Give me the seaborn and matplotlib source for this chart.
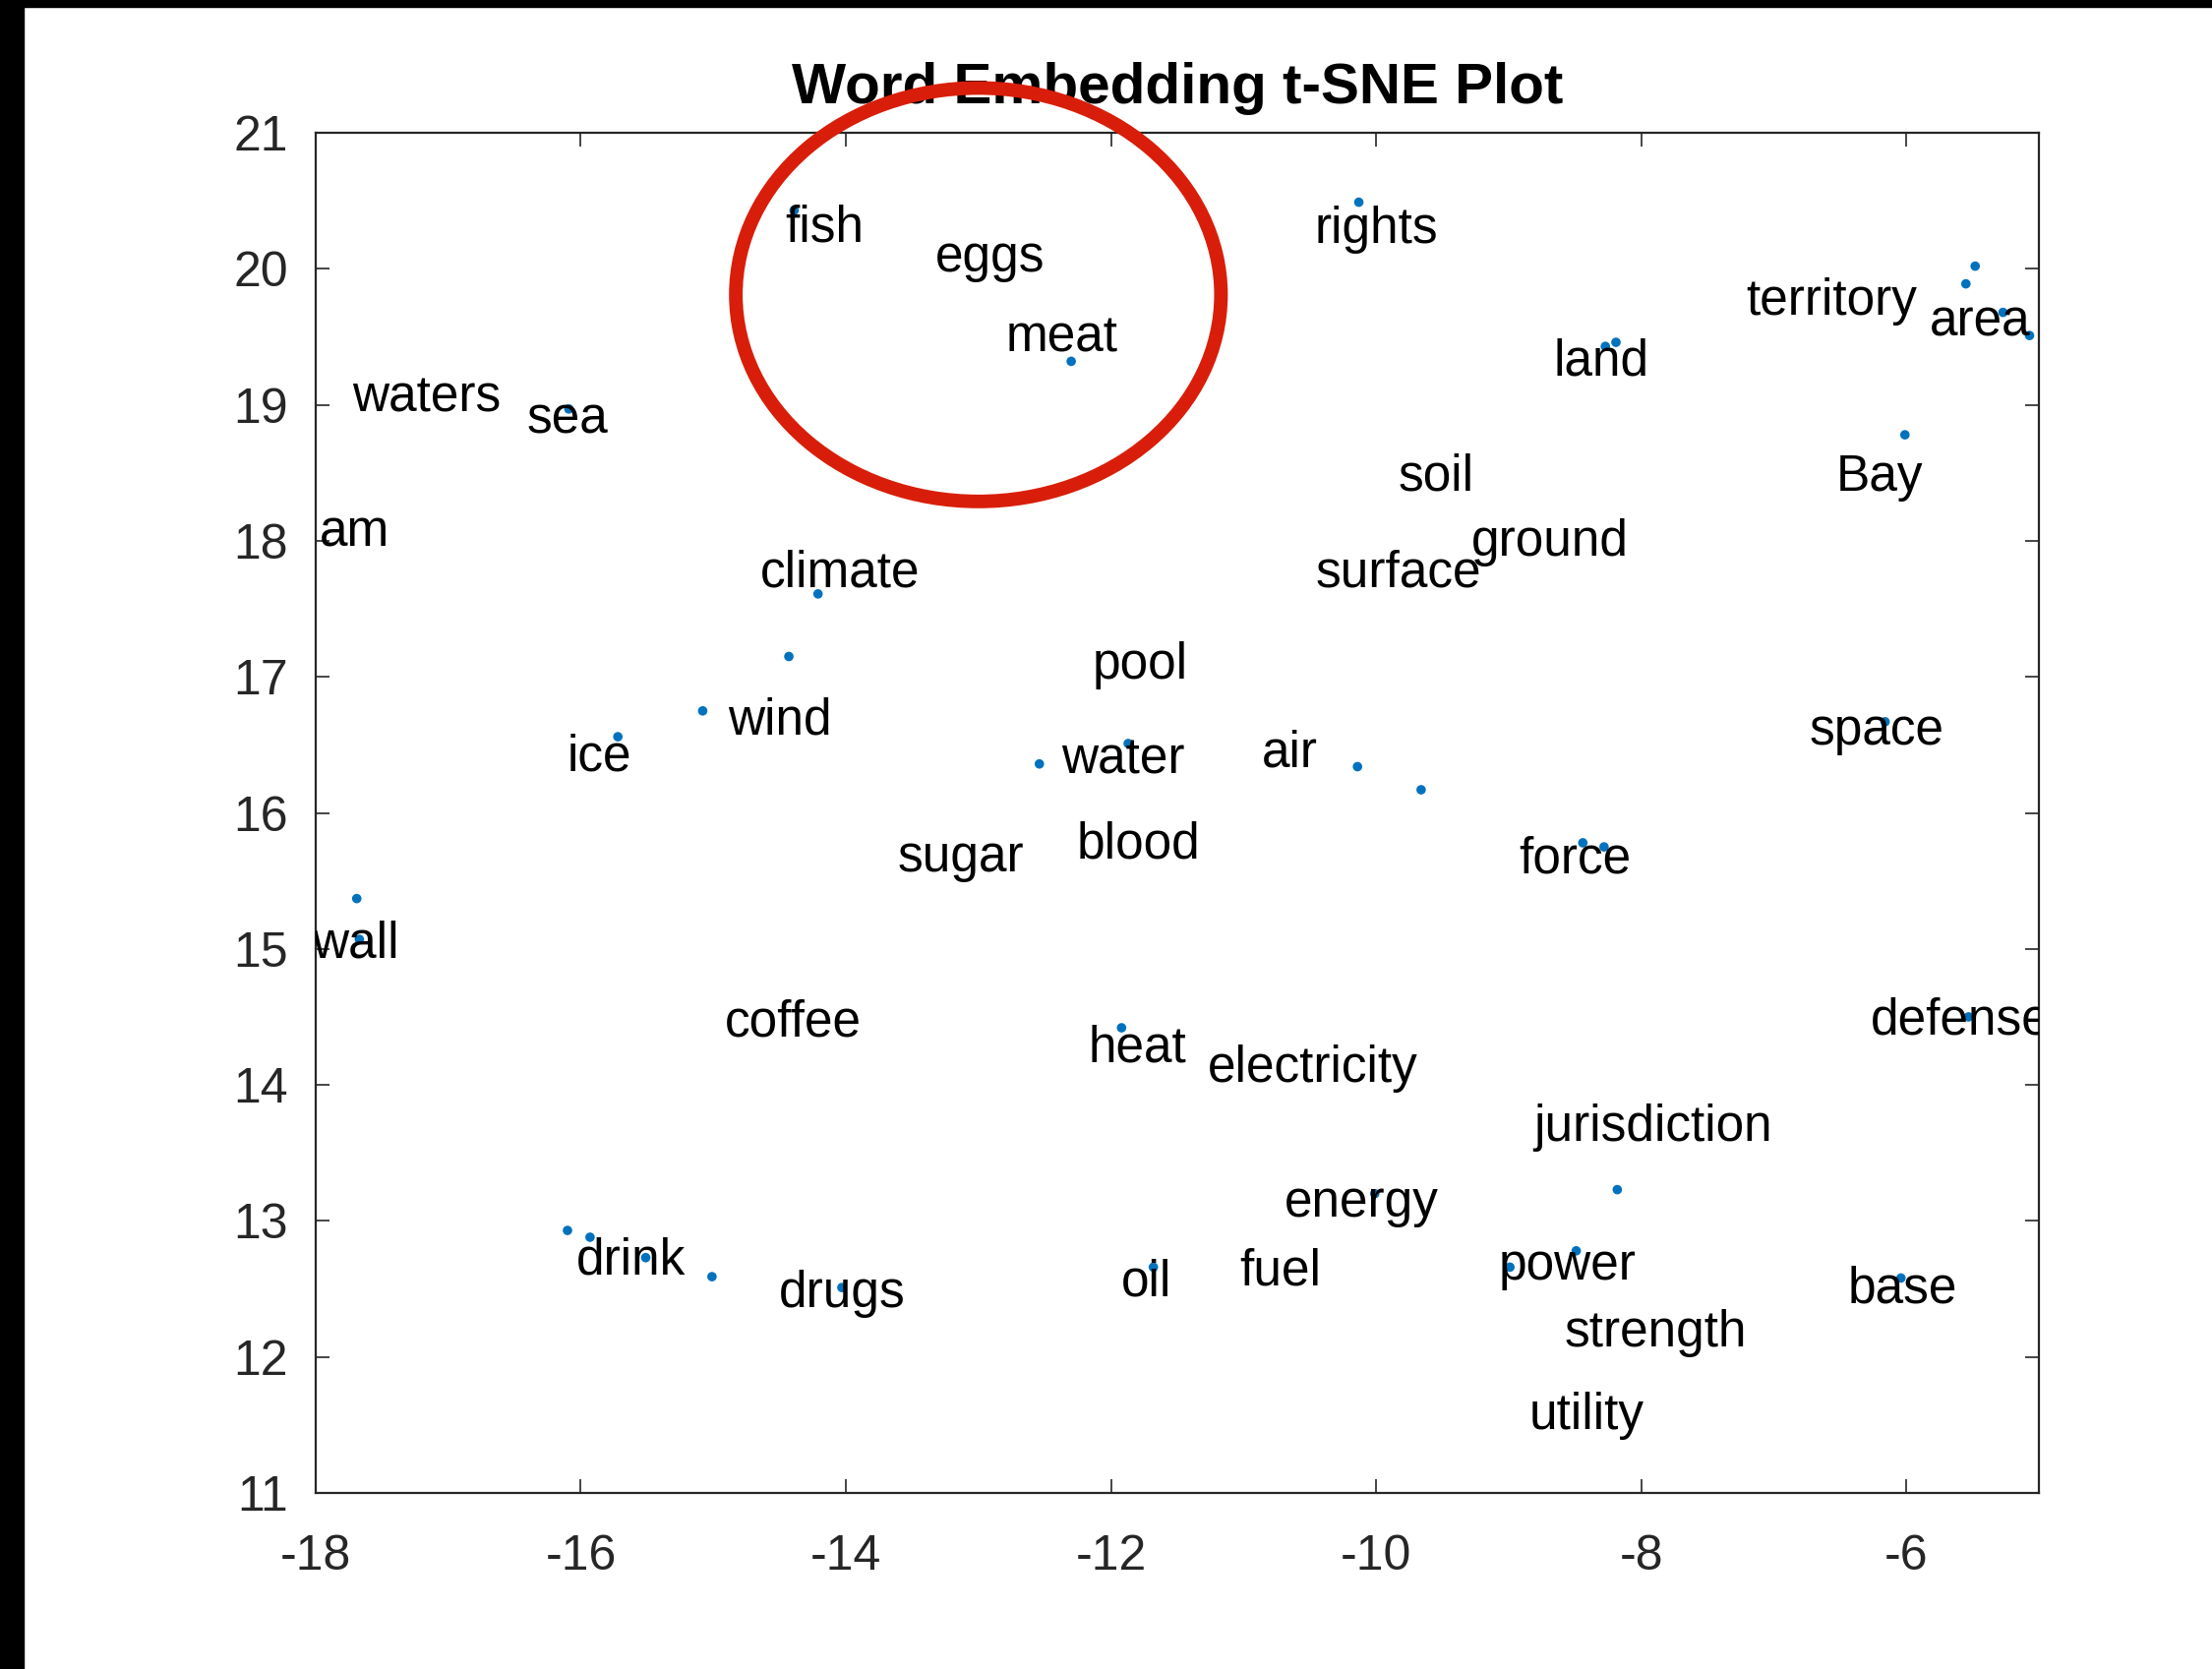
import matplotlib
matplotlib.use("Agg")
import matplotlib.pyplot as plt
from matplotlib.patches import Ellipse, Rectangle
import pandas as pd
import seaborn as sns

# %% words shown as text (x, y of label baseline centre)
words = ["fish", "eggs", "meat", "rights", "territory", "area", "land",
         "waters", "sea", "soil", "Bay", "am", "ground", "climate", "surface",
         "pool", "wind", "space", "ice", "water", "air", "blood", "sugar",
         "force", "wall", "coffee", "defense", "heat", "electricity",
         "jurisdiction", "energy", "drink", "fuel", "power", "oil", "drugs",
         "base", "strength", "utility"]
word_x = [-14.16, -12.91, -12.37, -10.00, -6.56, -5.44, -8.30,
          -17.16, -16.10, -9.55, -6.20, -17.71, -8.69, -14.04, -9.83,
          -11.78, -14.50, -6.22, -15.86, -11.91, -10.65, -11.79, -13.13,
          -8.50, -17.70, -14.40, -5.59, -11.80, -10.48,
          -7.91, -10.11, -15.62, -10.72, -8.56, -11.73, -14.03,
          -6.03, -7.89, -8.41]
word_y = [20.20, 19.98, 19.39, 20.19, 19.66, 19.51, 19.22,
          18.95, 18.79, 18.37, 18.37, 17.96, 17.89, 17.66, 17.66,
          16.99, 16.58, 16.50, 16.31, 16.29, 16.34, 15.67, 15.57,
          15.56, 14.94, 14.36, 14.37, 14.17, 14.02,
          13.59, 13.03, 12.61, 12.53, 12.57, 12.45, 12.37,
          12.40, 12.08, 11.47]

# %% points whose labels are hidden
dot_x = [-14.39, -12.30, -10.13, -5.48, -5.55, -5.27, -5.07, -8.27, -8.19,
         -16.09, -6.01, -14.21, -14.43, -15.08, -15.72, -12.54, -11.87,
         -10.14, -9.66, -6.16, -8.44, -8.28, -17.69, -17.67, -11.92, -5.53,
         -10.01, -8.18, -8.49, -8.99, -16.10, -15.93, -15.51, -15.01,
         -14.03, -11.68, -6.04]
dot_y = [20.43, 19.32, 20.49, 20.02, 19.89, 19.68, 19.51, 19.43, 19.46,
         18.97, 18.78, 17.61, 17.15, 16.75, 16.56, 16.36, 16.51,
         16.34, 16.17, 16.67, 15.78, 15.75, 15.37, 15.07, 14.42, 14.50,
         13.20, 13.23, 12.78, 12.66, 12.93, 12.88, 12.73, 12.59,
         12.51, 12.66, 12.58]

x_ticks = [-18, -16, -14, -12, -10, -8, -6]
y_ticks = [11, 12, 13, 14, 15, 16, 17, 18, 19, 20, 21]

# %% style
sns.set_style("white")
plt.rcParams["font.family"] = ["Liberation Sans", "DejaVu Sans"]
plt.rcParams["axes.unicode_minus"] = False

axis_col = "#262626"
fig = plt.figure(figsize=(22.49, 16.97), dpi=100)
ax = fig.add_axes([0.1427, 0.1055, 0.9217 - 0.1427, 0.9204 - 0.1055])

dots = pd.DataFrame({"x": dot_x, "y": dot_y})
sns.scatterplot(data=dots, x="x", y="y", ax=ax, color="#0072BD", s=48,
                edgecolor="none", clip_on=True)

for w, x, y in zip(words, word_x, word_y):
    ax.text(x, y, w, ha="center", va="baseline", fontsize=37,
            color="black", clip_on=True)

ax.set_xlim(-18, -5)
ax.set_ylim(11, 21)
ax.set_xticks(x_ticks)
ax.set_yticks(y_ticks)
ax.set_xlabel("")
ax.set_ylabel("")
ax.tick_params(direction="in", length=10, width=1.2, colors=axis_col,
               labelsize=36, top=True, right=True, bottom=True, left=True)
ax.tick_params(axis="x", pad=30)
ax.tick_params(axis="y", pad=20)
for sp in ax.spines.values():
    sp.set_visible(True)
    sp.set_color(axis_col)
    sp.set_linewidth(1.6)

ax.set_title("Word Embedding t-SNE Plot", fontsize=42, fontweight="bold",
             color="black", pad=22)

# red highlight ring
ax.add_patch(Ellipse((-13.0, 19.81), 3.66, 3.04, fill=False,
                     edgecolor="#d81e0a", linewidth=10, clip_on=False,
                     zorder=5))

# black frame strips from the screenshot
fig.add_artist(Rectangle((0, 1 - 7 / 1697), 1, 7 / 1697,
                         transform=fig.transFigure, color="black"))
fig.add_artist(Rectangle((0, 0), 24 / 2249, 1,
                         transform=fig.transFigure, color="black"))

fig.savefig("out.png", dpi=100, facecolor="white")
